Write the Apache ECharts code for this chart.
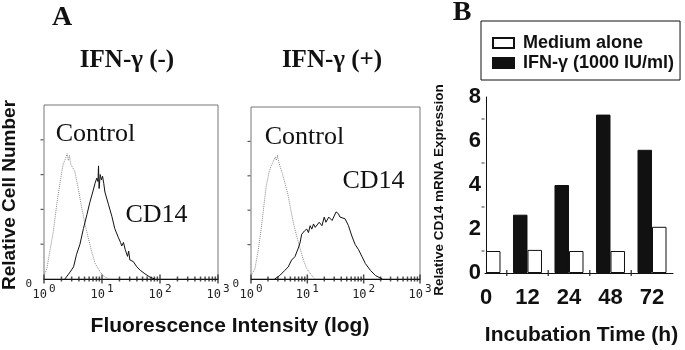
<!DOCTYPE html>
<html>
<head>
<meta charset="utf-8">
<script src="https://cdn.jsdelivr.net/npm/echarts@6/dist/echarts.min.js"></script>
<style>html,body{margin:0;padding:0;background:#fff}#c{width:685px;height:350px}</style>
</head>
<body>
<div id="c"></div>
<script>
// ---- Panel B data ----
const categories = ['0', '12', '24', '48', '72'];
const mediumAlone = [1.0, 1.05, 1.0, 1.0, 2.1];
const ifnGamma = [null, 2.65, 4.0, 7.2, 5.6];
const barTickLabels = ['0', '2', '4', '6', '8'];

// ---- Panel A data (x = log10 fluorescence intensity, y = relative cell number) ----
const decades = [0, 1, 2, 3];
const ctrlNegLog = [0.00,0.05,0.10,0.16,0.22,0.28,0.33,0.37,0.40,0.42,0.44,0.46,0.48,0.53,0.59,0.65,0.71,0.76,0.82,0.88,0.97,1.05,1.14];
const ctrlNegVal = [0.02,0.06,0.16,0.27,0.43,0.56,0.66,0.69,0.72,0.68,0.71,0.66,0.67,0.62,0.52,0.41,0.31,0.24,0.16,0.09,0.04,0.01,0];
const cd14NegLog = [0.36,0.45,0.51,0.56,0.62,0.68,0.74,0.79,0.84,0.88,0.91,0.93,0.94,0.95,0.97,0.99,1.01,1.03,1.05,1.11,1.17,1.22,1.28,1.32,1.34,1.37,1.40,1.42,1.44,1.46,1.48,1.54,1.60,1.66,1.74,1.83,1.91];
const cd14NegVal = [0,0.04,0.07,0.14,0.20,0.29,0.37,0.44,0.50,0.55,0.58,0.56,0.65,0.52,0.60,0.57,0.59,0.55,0.50,0.43,0.36,0.29,0.24,0.21,0.19,0.21,0.17,0.18,0.13,0.16,0.11,0.10,0.07,0.05,0.03,0.01,0];
const ctrlPosLog = [0.00,0.07,0.125,0.18,0.23,0.27,0.32,0.36,0.39,0.41,0.43,0.45,0.47,0.48,0.51,0.55,0.60,0.65,0.69,0.75,0.81,0.87,0.93,0.99,1.08,1.14];
const ctrlPosVal = [0.02,0.06,0.16,0.29,0.43,0.54,0.62,0.66,0.68,0.67,0.71,0.69,0.72,0.70,0.66,0.62,0.56,0.50,0.43,0.33,0.25,0.18,0.11,0.06,0.02,0];
const cd14PosLog = [0.42,0.51,0.60,0.66,0.72,0.78,0.84,0.87,0.90,0.95,0.99,1.02,1.05,1.08,1.11,1.14,1.17,1.21,1.26,1.30,1.33,1.35,1.38,1.41,1.44,1.47,1.51,1.55,1.58,1.61,1.67,1.73,1.79,1.85,1.91,1.97,2.03,2.12,2.21,2.33];
const cd14PosVal = [0,0.02,0.05,0.07,0.11,0.13,0.18,0.21,0.26,0.28,0.29,0.27,0.31,0.29,0.32,0.30,0.30,0.33,0.31,0.36,0.33,0.34,0.36,0.37,0.34,0.35,0.39,0.38,0.36,0.37,0.35,0.31,0.25,0.20,0.17,0.13,0.09,0.05,0.02,0];

const zip = (xs, ys) => xs.map((x, i) => [x, ys[i]]);
const minorTicks = [];
decades.slice(0, -1).forEach(d => { for (let k = 2; k <= 9; k++) minorTicks.push(d + Math.log10(k)); });
const barBoundaryTicks = categories.slice(0, -1).map((c, i) => i + 0.5);
const histYTicks = [0.2, 0.4, 0.6, 0.8];
const barYMinorTicks = [1, 3, 5, 7];
const barXMin = -0.024, barXMax = 4.506;

const SERIF = 'Liberation Serif', SANS = 'Liberation Sans', MONO = 'DejaVu Sans Mono';

function histX(gridIndex) {
  return {
    type: 'value', gridIndex, min: 0, max: 3, interval: 1, position: 'bottom',
    axisLine: { show: true, lineStyle: { color: '#111', width: 1 } },
    axisTick: { show: false },
    axisLabel: {
      margin: 5,
      formatter: v => '{b|10}{s|' + v + '}',
      rich: {
        b: { fontFamily: MONO, fontSize: 12, color: '#222', verticalAlign: 'bottom' },
        s: { fontFamily: MONO, fontSize: 11, color: '#222', verticalAlign: 'bottom', padding: [0, 0, 6, 2] }
      }
    },
    splitLine: { show: false }
  };
}
function histY(gridIndex) {
  return {
    type: 'value', gridIndex, min: 0, max: 1, interval: 0.2,
    axisLine: { show: false },
    axisTick: { show: false },
    axisLabel: { formatter: v => v === 0 ? '0' : '', fontFamily: MONO, fontSize: 11, color: '#222', margin: 12, verticalAlign: 'top' },
    splitLine: { show: false }
  };
}
function line(name, xs, ys, idx, dotted) {
  return {
    type: 'line', name, xAxisIndex: idx, yAxisIndex: idx, data: zip(xs, ys),
    showSymbol: false, symbol: 'none', silent: true,
    lineStyle: dotted ? { color: '#888', width: 1, type: 'dotted' } : { color: '#111', width: 1 }
  };
}
// tick marks placed through the axis scales as small rect symbols
function xTicks(values, xIdx, yIdx, len) {
  return {
    type: 'scatter', xAxisIndex: xIdx, yAxisIndex: yIdx,
    data: values.map(v => [v, 0]), symbol: 'rect', symbolSize: [1.5, len],
    itemStyle: { color: '#222' }
  };
}
function yTicks(values, axisIdx, xBase, len) {
  return {
    type: 'scatter', xAxisIndex: axisIdx, yAxisIndex: axisIdx,
    data: values.map(v => [xBase, v]), symbol: 'rect', symbolSize: [len, 1.2], symbolOffset: [-len / 2 - 0.5, 0],
    itemStyle: { color: '#333' }
  };
}
function txt(text, x, y, font, opts) {
  return Object.assign({
    type: 'text', x, y, silent: true,
    style: { text, font, fill: '#111', align: 'center', verticalAlign: 'middle' }
  }, opts || {});
}

const chart = echarts.init(document.getElementById('c'), null, { renderer: 'canvas' });
chart.setOption({
  animation: false,
  backgroundColor: '#fff',
  grid: [
    { left: 44, top: 105, width: 174, height: 174, show: true, borderColor: '#777', borderWidth: 1 },
    { left: 251, top: 107, width: 169, height: 172, show: true, borderColor: '#777', borderWidth: 1 },
    { left: 485, top: 97, width: 188, height: 176 }
  ],
  xAxis: [
    histX(0), histX(1),
    {
      type: 'value', gridIndex: 2, min: barXMin, max: barXMax,
      axisLine: { show: true, lineStyle: { color: '#111', width: 1 } },
      axisTick: { show: false },
      axisLabel: {
        customValues: categories.map((c, i) => i), formatter: v => categories[Math.round(v)],
        fontFamily: SANS, fontWeight: 'bold', fontSize: 22, color: '#111', margin: 14
      },
      splitLine: { show: false }
    },
    { type: 'value', gridIndex: 2, min: barXMin, max: barXMax, show: false },
    { type: 'value', gridIndex: 0, min: 0, max: 3, show: false },
    { type: 'value', gridIndex: 1, min: 0, max: 3, show: false }
  ],
  yAxis: [
    histY(0), histY(1),
    {
      type: 'value', gridIndex: 2, min: 0, max: 8, interval: 2,
      axisLine: { show: true, lineStyle: { color: '#111', width: 1 } },
      axisTick: { show: false },
      axisLabel: {
        formatter: v => barTickLabels[v / 2],
        fontFamily: SANS, fontWeight: 'bold', fontSize: 22, color: '#111', margin: 4
      },
      splitLine: { show: false }
    }
  ],
  legend: {
    data: ['Medium alone', 'IFN-γ (1000 IU/ml)'],
    orient: 'vertical', left: 481, top: 21,
    borderColor: '#111', borderWidth: 1, padding: [12, 6, 7, 11],
    itemWidth: 21, itemHeight: 10, itemGap: 0, icon: 'rect',
    textStyle: { fontFamily: SANS, fontWeight: 'bold', fontSize: 18, lineHeight: 20, color: '#111', padding: [0, 0, 0, 4] }
  },
  series: [
    line('Control (-)', ctrlNegLog, ctrlNegVal, 0, true),
    line('CD14 (-)', cd14NegLog, cd14NegVal, 0, false),
    line('Control (+)', ctrlPosLog, ctrlPosVal, 1, true),
    line('CD14 (+)', cd14PosLog, cd14PosVal, 1, false),
    xTicks(decades, 4, 0, 9), xTicks(minorTicks, 4, 0, 5),
    xTicks(decades, 5, 1, 9), xTicks(minorTicks, 5, 1, 5),
    yTicks(histYTicks, 0, 0, 3), yTicks(histYTicks, 1, 0, 3),
    xTicks(barBoundaryTicks, 3, 2, 6),
    yTicks(barYMinorTicks, 2, barXMin, 3),
    {
      type: 'bar', name: 'IFN-γ (1000 IU/ml)', xAxisIndex: 2, yAxisIndex: 2,
      data: categories.map((c, i) => [i, ifnGamma[i]]).filter(d => d[1] != null),
      barWidth: 14.5, barGap: '0%',
      itemStyle: { color: '#111', borderColor: '#111', borderWidth: 1 }
    },
    {
      type: 'bar', name: 'Medium alone', xAxisIndex: 2, yAxisIndex: 2,
      data: categories.map((c, i) => [i, mediumAlone[i]]),
      barWidth: 14.5, barGap: '0%',
      itemStyle: { color: '#fff', borderColor: '#111', borderWidth: 1 }
    }
  ],
  graphic: [
    txt('A', 62, 18, 'bold 28px ' + SERIF),
    txt('B', 462, 13, 'bold 28px ' + SERIF),
    txt('IFN-γ (-)', 127, 61, 'bold 25px ' + SERIF),
    txt('IFN-γ (+)', 332, 61, 'bold 25px ' + SERIF),
    txt('Control', 95.5, 134, '26px ' + SERIF),
    txt('CD14', 156.5, 215, '26px ' + SERIF),
    txt('Control', 304.5, 137, '26px ' + SERIF),
    txt('CD14', 373.5, 181.5, '26px ' + SERIF),
    txt('Fluorescence Intensity (log)', 230, 326, 'bold 21px ' + SANS),
    txt('Incubation Time (h)', 581.5, 335, 'bold 21px ' + SANS),
    txt('Relative Cell Number', 10, 195, 'bold 19px ' + SANS, { rotation: Math.PI / 2 }),
    txt('Relative CD14 mRNA Expression', 439, 190, 'bold 13.5px ' + SANS, { rotation: Math.PI / 2 })
  ]
});
</script>
</body>
</html>
